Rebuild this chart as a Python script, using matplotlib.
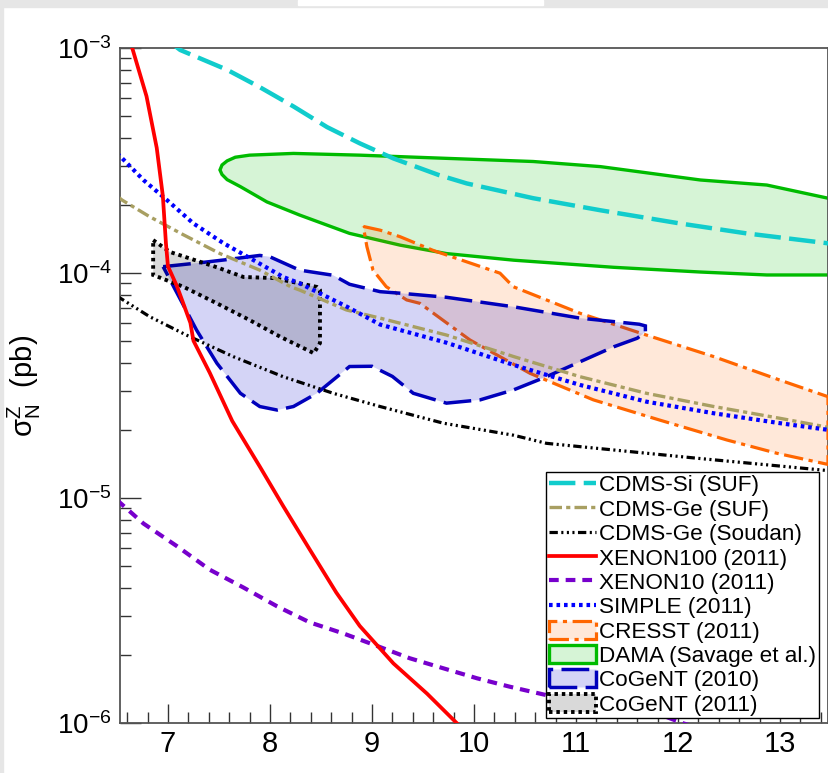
import matplotlib
matplotlib.use("Agg")
import matplotlib.pyplot as plt
from matplotlib.patches import Polygon, Rectangle
import numpy as np

plt.rcParams['font.family'] = ['Liberation Sans', 'DejaVu Sans']
plt.rcParams['mathtext.fontset'] = 'custom'
plt.rcParams['mathtext.rm'] = 'Liberation Sans'
plt.rcParams['mathtext.it'] = 'Liberation Sans:italic'
plt.rcParams['mathtext.bf'] = 'Liberation Sans:bold'
plt.rcParams['lines.scale_dashes'] = False

# ---------------- data (WIMP mass in GeV, cross-section in pb) ----------------
xenon100_x = [6.65, 6.79, 6.89, 6.95, 6.98, 7.00, 7.03, 7.09, 7.22, 7.25, 7.41, 7.63, 7.90, 8.13, 8.39, 8.65, 8.88, 9.21, 9.54, 9.83]
xenon100_y = [1.0e-3, 6.1e-4, 3.6e-4, 2.2e-4, 1.36e-4, 1.07e-4, 1.0e-4, 8.7e-5, 6.0e-5, 5.0e-5, 3.6e-5, 2.2e-5, 1.38e-5,
              9.2e-6, 5.9e-6, 3.8e-6, 2.7e-6, 1.84e-6, 1.35e-6, 1.0e-6]

xenon10_x = [6.50, 6.76, 7.09, 7.41, 7.74, 8.07, 8.39, 8.72, 9.05, 9.37, 9.70, 10.03, 10.35, 10.71, 11.20, 11.78, 12.04, 12.30]
xenon10_y = [9.8e-6, 7.7e-6, 6.1e-6, 4.8e-6, 4.0e-6, 3.3e-6, 2.8e-6, 2.5e-6, 2.2e-6, 1.94e-6, 1.75e-6, 1.58e-6,
             1.45e-6, 1.33e-6, 1.24e-6, 1.11e-6, 1.0e-6, 9.2e-7]

simple_x = [6.50, 6.55, 6.76, 6.99, 7.25, 7.54, 7.84, 8.13, 8.29, 8.75, 9.08, 9.73, 10.39, 11.04, 11.69, 12.35, 13.00, 13.50]
simple_y = [3.4e-4, 3.24e-4, 2.59e-4, 2.11e-4, 1.66e-4, 1.36e-4, 1.14e-4, 9.6e-5, 9.0e-5, 7.1e-5, 5.9e-5, 4.9e-5,
            3.9e-5, 3.18e-5, 2.68e-5, 2.38e-5, 2.15e-5, 2.0e-5]

cdmsge_suf_x = [6.50, 6.55, 6.82, 7.15, 7.51, 7.90, 8.20, 8.29, 8.75, 9.08, 9.73, 10.39, 11.04, 11.69, 12.35, 13.00, 13.50]
cdmsge_suf_y = [2.2e-4, 2.11e-4, 1.78e-4, 1.48e-4, 1.22e-4, 1.03e-4, 8.7e-5, 8.4e-5, 6.85e-5, 6.3e-5, 5.3e-5, 4.25e-5,
                3.46e-5, 2.92e-5, 2.55e-5, 2.26e-5, 2.05e-5]

cdmsge_soudan_x = [6.50, 6.82, 7.18, 7.64, 8.13, 8.62, 9.08, 9.70, 10.39, 10.71, 12.20, 13.50]
cdmsge_soudan_y = [7.9e-5, 6.4e-5, 5.3e-5, 4.25e-5, 3.46e-5, 2.92e-5, 2.55e-5, 2.15e-5, 1.9e-5, 1.75e-5, 1.5e-5, 1.32e-5]

cdmssi_x = [7.00, 7.12, 7.58, 7.90, 8.23, 8.56, 8.88, 9.21, 9.65, 9.93, 10.58, 11.24, 12.02, 12.67, 13.50]
cdmssi_y = [1.08e-3, 9.8e-4, 8.0e-4, 6.7e-4, 5.5e-4, 4.45e-4, 3.77e-4, 3.23e-4, 2.73e-4, 2.5e-4, 2.15e-4, 1.9e-4,
            1.66e-4, 1.5e-4, 1.35e-4]

dama_x = [7.51, 7.53, 7.58, 7.66, 7.80, 8.23, 8.88, 9.67, 10.58, 11.24, 12.22, 12.87, 13.47, 13.60,
          13.60, 12.87, 12.22, 11.37, 10.39, 9.73, 9.275, 8.78, 8.29, 7.97, 7.71, 7.58, 7.53]
dama_y = [2.87e-4, 3.02e-4, 3.15e-4, 3.27e-4, 3.34e-4, 3.40e-4, 3.34e-4, 3.24e-4, 3.13e-4, 2.97e-4, 2.59e-4, 2.46e-4,
          2.15e-4, 2.04e-4,
          9.8e-5, 9.8e-5, 1.01e-4, 1.06e-4, 1.14e-4, 1.22e-4, 1.33e-4, 1.50e-4, 1.81e-4, 2.07e-4, 2.42e-4, 2.60e-4, 2.74e-4]

cresst_x = [8.915, 9.08, 9.275, 9.60, 10.255, 10.385, 11.04, 11.69, 12.35, 13.00, 13.47,
            13.47, 12.97, 12.48, 11.82, 11.17, 10.55, 9.96, 9.47, 9.34, 9.14, 9.01, 8.95]
cresst_y = [1.61e-4, 1.55e-4, 1.45e-4, 1.26e-4, 9.98e-5, 8.69e-5, 6.62e-5, 5.30e-5, 4.25e-5, 3.34e-5, 2.82e-5,
            1.41e-5, 1.58e-5, 1.81e-5, 2.22e-5, 2.73e-5, 3.58e-5, 5.04e-5, 7.33e-5, 7.59e-5, 8.69e-5, 1.03e-4, 1.31e-4]

cogent10_x = [6.953, 7.31, 7.60, 7.90, 8.00, 8.29, 8.62, 8.78, 9.08, 9.28, 9.73, 10.385, 11.04, 11.62, 11.68, 11.68, 11.60,
              11.37, 10.71, 10.385, 10.06, 9.73, 9.405, 9.20, 9.00, 8.78, 8.46, 8.23, 8.07, 7.90, 7.71, 7.48, 7.28, 7.09]
cogent10_y = [1.067e-4, 1.11e-4, 1.15e-4, 1.197e-4, 1.18e-4, 1.03e-4, 9.77e-5, 8.91e-5, 8.26e-5, 8.13e-5, 7.80e-5,
              7.08e-5, 6.30e-5, 5.92e-5, 5.82e-5, 5.47e-5, 5.13e-5,
              4.70e-5, 3.46e-5, 3.02e-5, 2.73e-5, 2.64e-5, 2.92e-5, 3.47e-5, 3.85e-5, 3.84e-5, 2.92e-5, 2.55e-5,
              2.46e-5, 2.55e-5, 2.92e-5, 3.97e-5, 5.58e-5, 8.13e-5]

cogent11_x = [6.855, 7.02, 7.48, 7.74, 8.03, 8.29, 8.46, 8.49, 8.49, 8.43, 8.10, 7.80, 7.48, 7.15, 6.855]
cogent11_y = [1.40e-4, 1.24e-4, 1.06e-4, 9.6e-5, 9.5e-5, 9.0e-5, 8.67e-5, 8.4e-5, 4.88e-5, 4.40e-5, 5.21e-5, 6.18e-5,
              7.33e-5, 8.69e-5, 9.8e-5]

legend_labels = ["CDMS-Si (SUF)", "CDMS-Ge (SUF)", "CDMS-Ge (Soudan)", "XENON100 (2011)", "XENON10 (2011)",
                 "SIMPLE (2011)", "CRESST (2011)", "DAMA (Savage et al.)", "CoGeNT (2010)", "CoGeNT (2011)"]

x_ticks = [7, 8, 9, 10, 11, 12, 13]
x_tick_labels = ["7", "8", "9", "10", "11", "12", "13"]
y_ticks = [1e-6, 1e-5, 1e-4, 1e-3]
y_tick_labels = [r"$\mathregular{10^{-6}}$", r"$\mathregular{10^{-5}}$", r"$\mathregular{10^{-4}}$", r"$\mathregular{10^{-3}}$"]
y_label = r"$\mathregular{\sigma_{N}^{Z}}$  (pb)"

# ---------------- figure ----------------
W, H = 829, 773
fig = plt.figure(figsize=(W / 100, H / 100), dpi=100)
fig.patch.set_facecolor('white')
# screenshot frame strips
fig.add_artist(Rectangle((0, 1 - 7 / H), 1, 7 / H, transform=fig.transFigure, color='#e6e6e6', zorder=0))
fig.add_artist(Rectangle((298 / W, 1 - 5 / H), 245 / W, 5 / H, transform=fig.transFigure, color='white', zorder=1))
fig.add_artist(Rectangle((0, 0), 3 / W, 1 - 7 / H, transform=fig.transFigure, color='#e6e6e6', zorder=0))

left, right, top, bottom = 120, 828, 48, 723
ax = fig.add_axes([left / W, (H - bottom) / H, (right - left) / W, (bottom - top) / H])
ax.set_yscale('log')
ax.set_xlim(6.53, 13.47)
ax.set_ylim(1e-6, 1e-3)

# filled regions
dama = Polygon(np.column_stack([dama_x, dama_y]), closed=True, facecolor=(0.0, 0.75, 0.0, 0.16),
               edgecolor='#00bb00', linewidth=2.4, linestyle='-', zorder=2, label=legend_labels[7])
cresst = Polygon(np.column_stack([cresst_x, cresst_y]), closed=True, facecolor=(1.0, 0.4, 0.0, 0.15),
                 edgecolor='#ff6600', linewidth=2.3, linestyle=(0, (14, 4, 3, 4)), zorder=3, label=legend_labels[6])
cogent10 = Polygon(np.column_stack([cogent10_x, cogent10_y]), closed=True, facecolor=(0.0, 0.0, 0.8, 0.17),
                   edgecolor='#0000bb', linewidth=2.5, linestyle=(0, (20, 6)), zorder=4, label=legend_labels[8])
cogent11 = Polygon(np.column_stack([cogent11_x, cogent11_y]), closed=True, facecolor=(0.0, 0.0, 0.0, 0.15),
                   edgecolor='black', linewidth=2.8, linestyle=(0, (2.5, 2.8)), zorder=5, label=legend_labels[9])
for p in (dama, cresst, cogent10, cogent11):
    ax.add_patch(p)

l_si, = ax.plot(cdmssi_x, cdmssi_y, color='#11cccc', lw=3.2, dashes=(19, 6), zorder=6, label=legend_labels[0])
l_ge, = ax.plot(cdmsge_suf_x, cdmsge_suf_y, color='#a89f62', lw=2.4, dashes=(9, 3, 3, 3), zorder=6, label=legend_labels[1])
l_so, = ax.plot(cdmsge_soudan_x, cdmsge_soudan_y, color='black', lw=2.3,
                dashes=(6, 2.5, 1.5, 2.5, 1.5, 2.5, 1.5, 2.5), zorder=6, label=legend_labels[2])
l_x10, = ax.plot(xenon10_x, xenon10_y, color='#7700cc', lw=3.0, dashes=(7, 5), zorder=6, label=legend_labels[4])
l_si2, = ax.plot(simple_x, simple_y, color='#0000ff', lw=3.0, dashes=(2.6, 2.8), zorder=7, label=legend_labels[5])
l_x100, = ax.plot(xenon100_x, xenon100_y, color='#ff0000', lw=2.7, zorder=8, label=legend_labels[3])

# axes styling
for s in ax.spines.values():
    s.set_color('#555555')
    s.set_linewidth(1.3)
ax.set_xticks(x_ticks)
ax.set_xticklabels(x_tick_labels)
ax.set_xticks(np.arange(6.6, 13.5, 0.2), minor=True)
ax.set_yticks(y_ticks)
ax.set_yticklabels(y_tick_labels)
ax.tick_params(axis='x', which='major', direction='in', length=14, width=1.0, color='#333333',
               labelsize=21, pad=5, top=False)
ax.tick_params(axis='x', which='minor', direction='in', length=8, width=1.0, color='#333333', top=False)
ax.tick_params(axis='y', which='major', direction='in', length=15, width=1.0, color='#333333',
               labelsize=20, pad=6, right=False)
ax.tick_params(axis='y', which='minor', direction='in', length=8, width=1.0, color='#333333', right=False,
               labelleft=False)
ax.yaxis.set_minor_formatter(matplotlib.ticker.NullFormatter())
ax.set_ylabel(y_label, fontsize=21, labelpad=10)

handles = [l_si, l_ge, l_so, l_x100, l_x10, l_si2, cresst, dama, cogent10, cogent11]
leg = ax.legend(handles=handles, labels=legend_labels, loc='upper right',
                bbox_to_anchor=((819 - left) / (right - left), (bottom - 472) / (bottom - top)),
                borderaxespad=0, fontsize=16.2, frameon=True, fancybox=False, framealpha=1,
                edgecolor='black', handlelength=2.1, handletextpad=0.15, labelspacing=0.115,
                borderpad=0.12, handleheight=0.85)
leg.get_frame().set_linewidth(1.0)
leg.set_zorder(20)

fig.savefig('out.png', dpi=100)
